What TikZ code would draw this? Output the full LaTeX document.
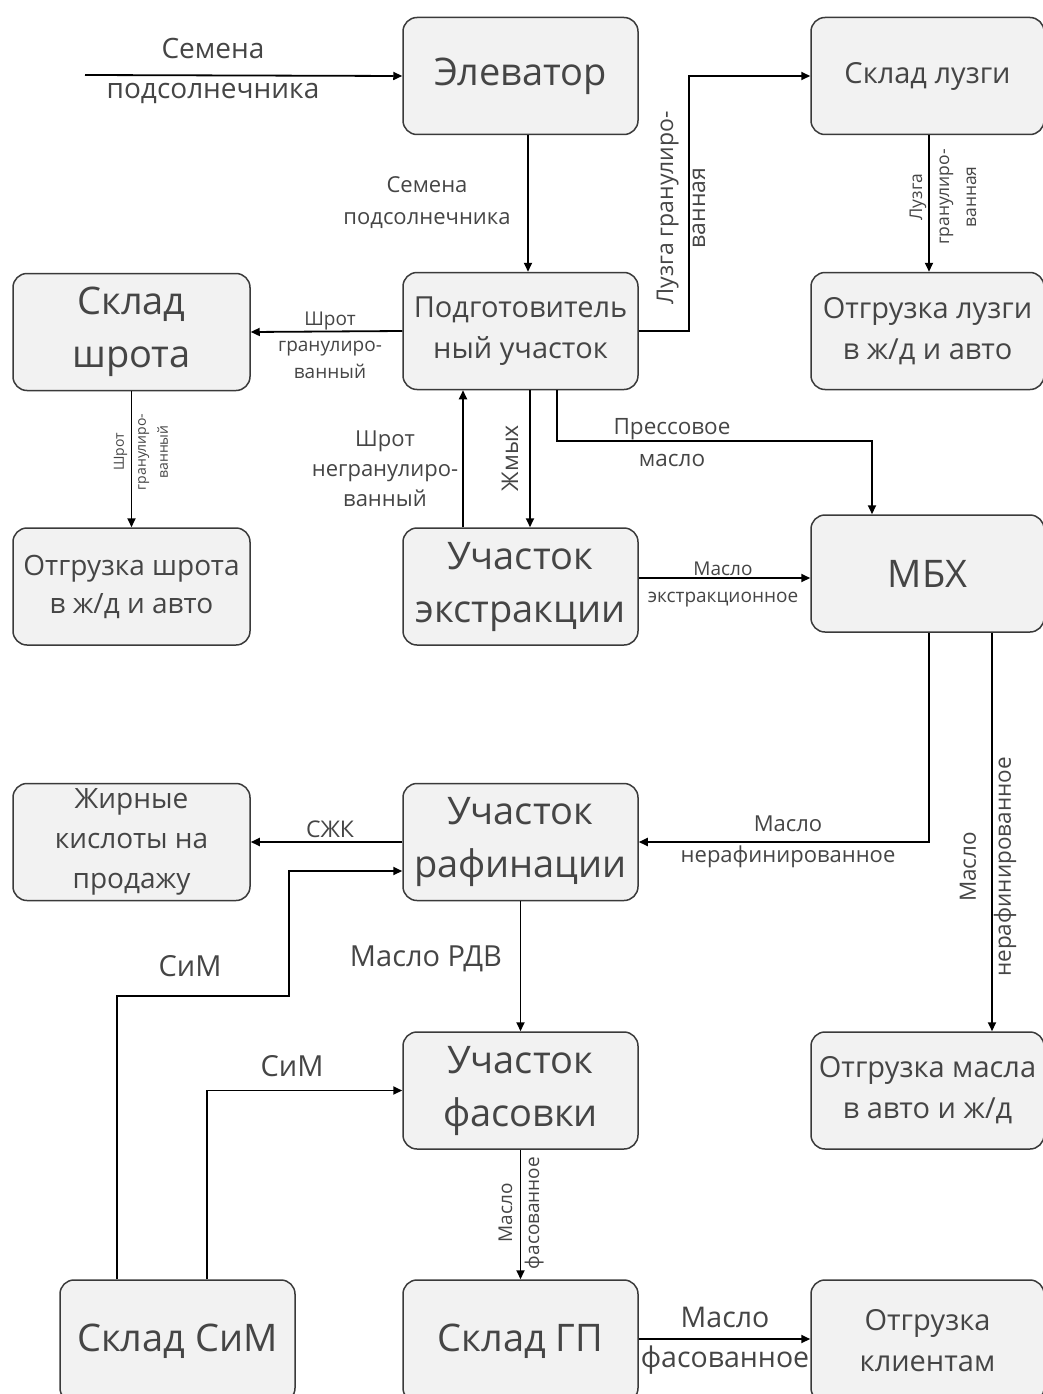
\documentclass[tikz,border=0pt]{standalone}
\usepackage{fontspec}
\setmainfont{Open Sans}
\usetikzlibrary{arrows.meta,calc}
\definecolor{tx}{HTML}{454545}
\definecolor{bf}{HTML}{F2F2F2}
\definecolor{bd}{HTML}{3A3A3A}
\begin{document}
\begin{tikzpicture}[x=1pt,y=-1pt,
 box/.style={draw=bd, fill=bf, line width=1.5pt, rounded corners=14pt, minimum width=235pt, minimum height=117pt, text=tx, align=center, inner sep=0pt},
 big/.style={font=\fontsize{38}{53}\selectfont},
 mid/.style={font=\fontsize{29}{41}\selectfont},
 lab/.style={text=tx, align=center, inner sep=0pt},
 arr/.style={line width=1.8pt, draw=black, -{Triangle[length=9pt,width=8pt]}},
]
\useasboundingbox (0,0) rectangle (1043,1394);
\begin{scope}
\clip (0,0) rectangle (1043,1394);
\node[box,big] (elev) at (520.5,76) {Элеватор};
\node[box,mid,minimum width=233pt] (luz) at (927.5,76) {Склад лузги};
\node[box,big,minimum width=237pt] (shrot) at (131.5,332) {Склад\\шрота};
\node[box,font=\fontsize{29}{41}\selectfont] (prep) at (520.5,331) {Подготовитель\\ный участок};
\node[box,mid,minimum width=233pt] (otluz) at (927.5,331) {Отгрузка лузги\\в ж/д и авто};
\node[box,font=\fontsize{28}{38}\selectfont,minimum width=237pt] (otshr) at (131.5,586.5) {Отгрузка шрота\\в ж/д и авто};
\node[box,big] (extr) at (520.5,586.5) {Участок\\экстракции};
\node[box,big,minimum width=233pt] (mbx) at (927.5,573.5) {МБХ};
\node[box,font=\fontsize{28}{40}\selectfont,minimum width=237pt] (zhk) at (131.5,842) {Жирные\\кислоты на\\продажу};
\node[box,big] (raf) at (520.5,842) {Участок\\рафинации};
\node[box,big] (fas) at (520.5,1090.5) {Участок\\фасовки};
\node[box,mid,minimum width=233pt] (otmas) at (927.5,1090.5) {Отгрузка масла\\в авто и ж/д};
\node[box,big,minimum height=122pt] (sim) at (177.5,1341) {Склад СиМ};
\node[box,big,minimum height=122pt] (gp) at (520.5,1341) {Склад ГП};
\node[box,mid,minimum width=233pt,minimum height=122pt] (kli) at (927.5,1341) {Отгрузка\\клиентам};
\end{scope}

% connectors
\coordinate (s0) at (85,75);
\draw[arr] (s0) -- (elev.west);
\node[lab,font=\fontsize{28}{40}\selectfont] (l1) at (213,71) {Семена\\подсолнечника};

\draw[arr] ([xshift=7.5pt]elev.south) -- ([xshift=7.5pt]prep.north);
\node[lab,font=\fontsize{22}{32}\selectfont] (l2) at (427,203) {Семена\\подсолнечника};

\draw[arr] (prep.east) -- ++(50,0) |- (luz.west);
\node[lab,font=\fontsize{23}{32}\selectfont,rotate=90] (l3) at (681,208) {Лузга гранулиро-\\ванная};

\draw[arr] ([xshift=1.5pt]luz.south) -- ([xshift=1.5pt]otluz.north);
\node[lab,font=\fontsize{17.5}{27}\selectfont,rotate=90] (l4) at (943,197) {Лузга\\гранулиро-\\ванная};

\draw[arr] (prep.west) -- (shrot.east);
\node[lab,font=\fontsize{19}{26.5}\selectfont] (l5) at (330,345) {Шрот\\гранулиро-\\ванный};

\draw[arr] (shrot.south) -- (otshr.north);
\node[lab,font=\fontsize{14}{22}\selectfont,rotate=90] (l6) at (141,452) {Шрот\\гранулиро-\\ванный};

\draw[arr] ([xshift=-57.5pt]extr.north) -- ([xshift=-57.5pt]prep.south);
\node[lab,font=\fontsize{22}{30}\selectfont] (l7) at (385,469) {Шрот\\негранулиро-\\ванный};

\draw[arr] ([xshift=9.5pt]prep.south) -- ([xshift=9.5pt]extr.north);
\node[lab,font=\fontsize{23}{30}\selectfont,rotate=90] (l8) at (510,458) {Жмых};

\draw[arr] ([xshift=36.5pt]prep.south) -- ++(0,51) -| ([xshift=-55.5pt]mbx.north);
\node[lab,font=\fontsize{22.5}{32}\selectfont] (l9) at (672,443) {Прессовое\\масло};

\draw[arr] (extr.east |- 0,578) -- (mbx.west |- 0,578);
\node[lab,font=\fontsize{19}{27}\selectfont] (l10) at (723,584) {Масло\\экстракционное};

\draw[arr] ([xshift=1.5pt]mbx.south) |- (raf.east);
\node[lab,font=\fontsize{22}{31}\selectfont] (l11) at (788,842) {Масло\\нерафинированное};

\draw[arr] ([xshift=64.5pt]mbx.south) -- ([xshift=64.5pt]otmas.north);
\node[lab,font=\fontsize{22.5}{35}\selectfont,rotate=90] (l12) at (988,867) {Масло\\нерафинированное};

\draw[arr] (raf.west) -- (zhk.east);
\node[lab,font=\fontsize{23}{30}\selectfont] (l13) at (330,829) {СЖК};

\draw[arr] (raf.south) -- (fas.north);
\node[lab,font=\fontsize{29}{30}\selectfont] (l14) at (426,959) {Масло РДВ};

\draw[arr] ([xshift=-60.5pt]sim.north) |- (289,996) |- ([yshift=-29pt]raf.west);
\node[lab,font=\fontsize{29}{30}\selectfont] (l15) at (190,966) {СиМ};

\draw[arr] ([xshift=29.5pt]sim.north) |- (fas.west);
\node[lab,font=\fontsize{29}{30}\selectfont] (l16) at (292,1066) {СиМ};

\draw[arr] (fas.south) -- (gp.north);
\node[lab,font=\fontsize{19}{27}\selectfont,rotate=90] (l17) at (521,1213) {Масло\\фасованное};

\draw[arr] (gp.east |- 0,1339) -- (kli.west |- 0,1339);
\node[lab,font=\fontsize{28.5}{40}\selectfont] (l18) at (725,1341) {Масло\\фасованное};
\end{tikzpicture}
\end{document}
